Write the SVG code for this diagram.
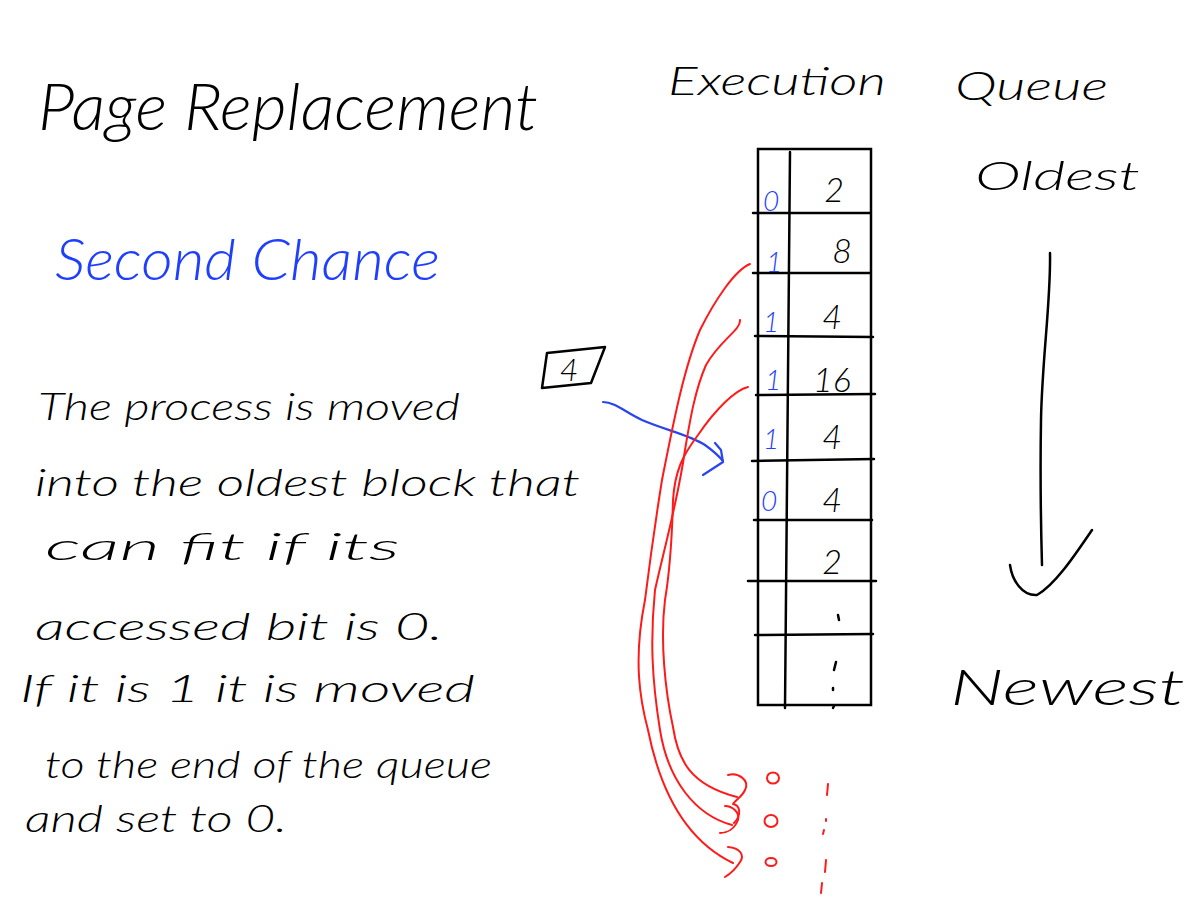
<svg xmlns="http://www.w3.org/2000/svg" width="1200" height="900" viewBox="0 0 1200 900">
<style>
.hw{font-family:"Lato","Open Sans","Liberation Sans",sans-serif;font-weight:300;font-style:italic;fill:#000}
.blue{fill:#1f3fff}
.red{fill:#ff1a1a}
.ink{fill:none;stroke:#000;stroke-width:2.5;stroke-linecap:round;stroke-linejoin:round}
.bink{fill:none;stroke:#2a45f0;stroke-width:2.2;stroke-linecap:round;stroke-linejoin:round}
.rink{fill:none;stroke:#ff1a1a;stroke-width:2;stroke-linecap:round;stroke-linejoin:round}
</style>
<rect width="1200" height="900" fill="#fff"/>

<g id="title">
<text class="hw" x="38" y="130" font-size="66" textLength="500" lengthAdjust="spacingAndGlyphs">Page Replacement</text>
<text class="hw blue" x="55" y="280" font-size="58" textLength="385" lengthAdjust="spacingAndGlyphs">Second Chance</text>
</g>

<g id="description" font-size="38">
<text class="hw" x="38" y="420" textLength="422" lengthAdjust="spacingAndGlyphs">The process is moved</text>
<text class="hw" x="35" y="496" textLength="545" lengthAdjust="spacingAndGlyphs">into the oldest block that</text>
<text class="hw" x="45" y="560" textLength="355" lengthAdjust="spacingAndGlyphs">can fit if its</text>
<text class="hw" x="35" y="640" textLength="408" lengthAdjust="spacingAndGlyphs">accessed bit is 0.</text>
<text class="hw" x="20" y="702" textLength="455" lengthAdjust="spacingAndGlyphs">If it is 1 it is moved</text>
<text class="hw" x="45" y="778" textLength="447" lengthAdjust="spacingAndGlyphs">to the end of the queue</text>
<text class="hw" x="25" y="832" textLength="262" lengthAdjust="spacingAndGlyphs">and set to 0.</text>
</g>

<g id="headings" font-size="40">
<text class="hw" x="668" y="95" textLength="218" lengthAdjust="spacingAndGlyphs">Execution</text>
<text class="hw" x="955" y="100" textLength="153" lengthAdjust="spacingAndGlyphs">Queue</text>
<text class="hw" x="975" y="190" textLength="165" lengthAdjust="spacingAndGlyphs">Oldest</text>
<text class="hw" x="950" y="705" font-size="50" textLength="235" lengthAdjust="spacingAndGlyphs">Newest</text>
</g>

<g id="queue-arrow">
<path class="ink" d="M1050,253 C1051,300 1042,360 1041,420 C1040,480 1041,530 1042,565"/>
<path class="ink" d="M1010,565 C1012,580 1022,596 1037,595 C1055,585 1075,555 1092,530"/>
</g>

<g id="table">
<rect x="758" y="149" width="113" height="556" fill="none" stroke="#000" stroke-width="2.5"/>
<path class="ink" d="M790,152 L785,708"/>
<path class="ink" d="M753,213 L870,213 M753,273 L870,273 M755,336 L873,337 M756,395 L875,394 M752,461 L874,459 M754,520 L872,520 M748,581 L876,581 M755,635 L873,634"/>
<g font-size="34">
<text class="hw" x="834" y="202" text-anchor="middle">2</text>
<text class="hw" x="842" y="263" text-anchor="middle">8</text>
<text class="hw" x="832" y="329" text-anchor="middle">4</text>
<text class="hw" x="832" y="392" text-anchor="middle">16</text>
<text class="hw" x="832" y="449" text-anchor="middle">4</text>
<text class="hw" x="832" y="512" text-anchor="middle">4</text>
<text class="hw" x="832" y="574" text-anchor="middle">2</text>
</g>
<path class="ink" d="M838,615 L839,620 M836,662 L834,670 M833,688 L833,690 M834,706 L833,708" stroke-width="2.5"/>
<g font-size="28">
<text class="hw blue" x="771" y="211" text-anchor="middle">0</text>
<text class="hw blue" x="774" y="272" text-anchor="middle">1</text>
<text class="hw blue" x="771" y="332" text-anchor="middle">1</text>
<text class="hw blue" x="773" y="390" text-anchor="middle">1</text>
<text class="hw blue" x="771" y="449" text-anchor="middle">1</text>
<text class="hw blue" x="769" y="511" text-anchor="middle">0</text>
</g>
</g>

<g id="new-process">
<path class="ink" d="M547,353 L605,347 L591,383 L542,388 Z" stroke-width="2.2"/>
<text class="hw" x="569" y="381" font-size="32" text-anchor="middle">4</text>
</g>

<g id="connectors">
<path class="bink" d="M603,402 C615,402 625,412 642,420 C665,430 690,435 705,445 C712,450 718,455 723,461"/>
<path class="bink" d="M715,443 L721,450 L723,462 L703,475"/>
<path class="rink" d="M750,264 C735,270 715,300 700,330 C683,370 672,430 662,480 C654,530 650,560 645,600 C633,660 640,700 648,730 C660,790 685,840 733,863"/>
<path class="rink" d="M728,847 C740,848 745,855 740,862 C735,870 730,874 725,877"/>
<path class="rink" d="M740,320 C741,330 720,340 706,365 C695,390 690,420 685,450 C678,500 665,545 655,590 C650,640 652,680 660,730 C668,780 695,815 732,825"/>
<path class="rink" d="M725,806 C732,806 740,812 738,820 C734,830 726,833 720,833"/>
<path class="rink" d="M748,387 C735,390 715,410 698,435 C683,455 675,470 673,500 C672,540 670,570 665,600 C660,640 665,690 673,727 C678,760 690,785 737,797"/>
<path class="rink" d="M728,775 C738,772 750,780 745,790 C742,797 735,800 733,804 C740,805 742,815 734,823"/>
<ellipse class="rink" cx="773" cy="778" rx="6" ry="5.5"/>
<ellipse class="rink" cx="771" cy="821" rx="6.5" ry="6"/>
<ellipse class="rink" cx="771" cy="862" rx="5.5" ry="4"/>
<path class="rink" d="M828,784 L827,795 M826,819 L826,821 M824,830 L823,834 M826,860 L825,872 M822,883 L821,893" stroke-width="2.2"/>
</g>
</svg>
